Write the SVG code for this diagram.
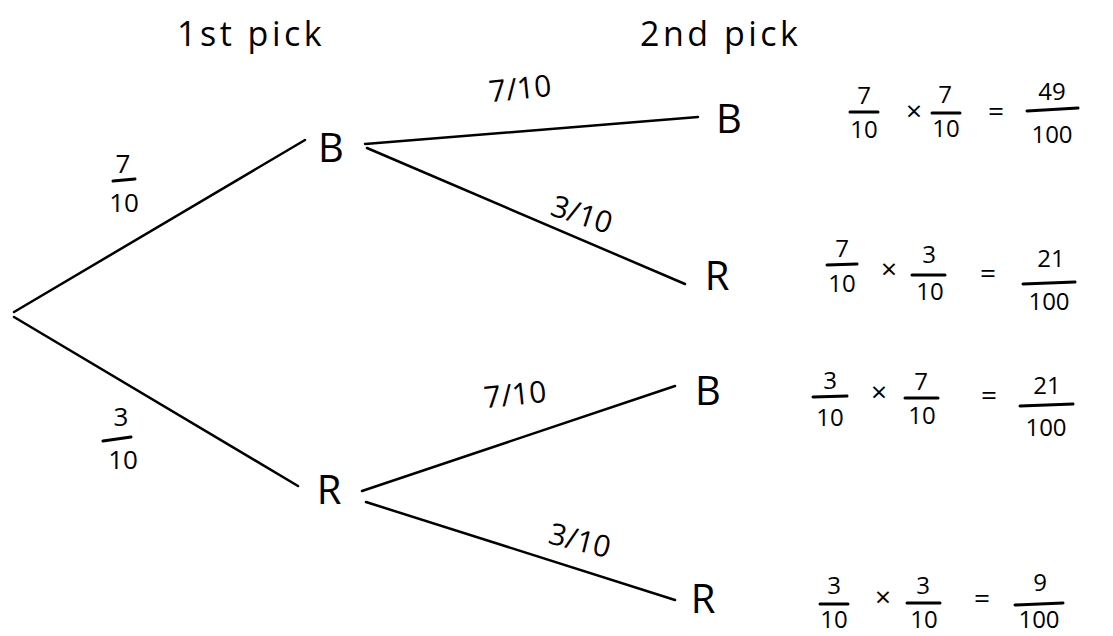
<svg xmlns="http://www.w3.org/2000/svg" width="1113" height="636" viewBox="0 0 1113 636">
<style>
  text { font-family: "Open Sans", "Liberation Sans", sans-serif; fill: #000; }
  .hdr { font-size: 34px; letter-spacing: 3.5px; }
  .node { font-size: 40px; text-anchor: middle; }
  .el { font-size: 30px; text-anchor: middle; }
  .fl { font-size: 26px; text-anchor: middle; }
  .fr { font-size: 24px; text-anchor: middle; }
  .op { font-size: 28px; text-anchor: middle; }
  .edge { stroke: #000; stroke-width: 2.5; fill: none; stroke-linecap: round; }
  .bar { stroke: #000; stroke-width: 3; stroke-linecap: round; }
</style>
<rect width="1113" height="636" fill="#fff"/>

<g id="headers">
  <text class="hdr" x="177" y="46">1st pick</text>
  <text class="hdr" x="640" y="46">2nd pick</text>
</g>

<g id="connectors">
  <line class="edge" x1="14" y1="312" x2="305" y2="140"/>
  <line class="edge" x1="14" y1="317" x2="298" y2="486"/>
  <line class="edge" x1="365" y1="144" x2="698" y2="117"/>
  <line class="edge" x1="367" y1="148" x2="685" y2="284"/>
  <line class="edge" x1="362" y1="491" x2="675" y2="386"/>
  <line class="edge" x1="366" y1="502" x2="675" y2="600"/>
</g>

<g id="edge-labels">
  <g id="lbl-root-B">
    <text class="fl" x="123" y="173">7</text>
    <line class="bar" x1="113" y1="181" x2="135" y2="179"/>
    <text class="fl" x="124" y="212">10</text>
  </g>
  <g id="lbl-root-R">
    <text class="fl" x="121" y="426">3</text>
    <line class="bar" x1="103" y1="441" x2="131" y2="437"/>
    <text class="fl" x="123" y="469">10</text>
  </g>
  <text class="el" transform="translate(520,88) rotate(-6)" x="0" y="11">7/10</text>
  <text class="el" transform="translate(582,214) rotate(18)" x="0" y="11">3/10</text>
  <text class="el" transform="translate(515,394) rotate(-6)" x="0" y="11">7/10</text>
  <text class="el" transform="translate(580,540) rotate(14)" x="0" y="11">3/10</text>
</g>

<g id="node-B1"><text class="node" x="331" y="162">B</text></g>
<g id="node-R1"><text class="node" x="329" y="504">R</text></g>
<g id="node-B2"><text class="node" x="729" y="133">B</text></g>
<g id="node-R2"><text class="node" x="717" y="290">R</text></g>
<g id="node-B3"><text class="node" x="708" y="405">B</text></g>
<g id="node-R3"><text class="node" x="703" y="613">R</text></g>

<g id="result-BB">
  <text class="fr" x="864" y="104">7</text>
  <line class="bar" x1="850" y1="112" x2="878" y2="112"/>
  <text class="fr" x="864" y="138">10</text>
  <text class="op" x="914" y="121">×</text>
  <text class="fr" x="945" y="103">7</text>
  <line class="bar" x1="932" y1="113" x2="960" y2="113"/>
  <text class="fr" x="946" y="137">10</text>
  <text class="op" x="996" y="121">=</text>
  <text class="fr" x="1052" y="100">49</text>
  <line class="bar" x1="1027" y1="111" x2="1078" y2="108"/>
  <text class="fr" x="1052" y="143">100</text>
</g>

<g id="result-BR">
  <text class="fr" x="842" y="257">7</text>
  <line class="bar" x1="827" y1="265" x2="857" y2="264"/>
  <text class="fr" x="842" y="292">10</text>
  <text class="op" x="889" y="279">×</text>
  <text class="fr" x="929" y="263">3</text>
  <line class="bar" x1="912" y1="275" x2="945" y2="275"/>
  <text class="fr" x="930" y="300">10</text>
  <text class="op" x="988" y="283">=</text>
  <text class="fr" x="1051" y="267">21</text>
  <line class="bar" x1="1023" y1="284" x2="1075" y2="282"/>
  <text class="fr" x="1049" y="310">100</text>
</g>

<g id="result-RB">
  <text class="fr" x="830" y="389">3</text>
  <line class="bar" x1="813" y1="397" x2="847" y2="396"/>
  <text class="fr" x="830" y="426">10</text>
  <text class="op" x="879" y="402">×</text>
  <text class="fr" x="921" y="390">7</text>
  <line class="bar" x1="905" y1="398" x2="938" y2="398"/>
  <text class="fr" x="922" y="424">10</text>
  <text class="op" x="989" y="405">=</text>
  <text class="fr" x="1047" y="394">21</text>
  <line class="bar" x1="1020" y1="406" x2="1073" y2="404"/>
  <text class="fr" x="1046" y="436">100</text>
</g>

<g id="result-RR">
  <text class="fr" x="834" y="594">3</text>
  <line class="bar" x1="820" y1="604" x2="848" y2="604"/>
  <text class="fr" x="834" y="628">10</text>
  <text class="op" x="883" y="607">×</text>
  <text class="fr" x="923" y="594">3</text>
  <line class="bar" x1="907" y1="603" x2="940" y2="603"/>
  <text class="fr" x="924" y="628">10</text>
  <text class="op" x="982" y="608">=</text>
  <text class="fr" x="1040" y="591">9</text>
  <line class="bar" x1="1015" y1="605" x2="1063" y2="603"/>
  <text class="fr" x="1039" y="628">100</text>
</g>
</svg>
